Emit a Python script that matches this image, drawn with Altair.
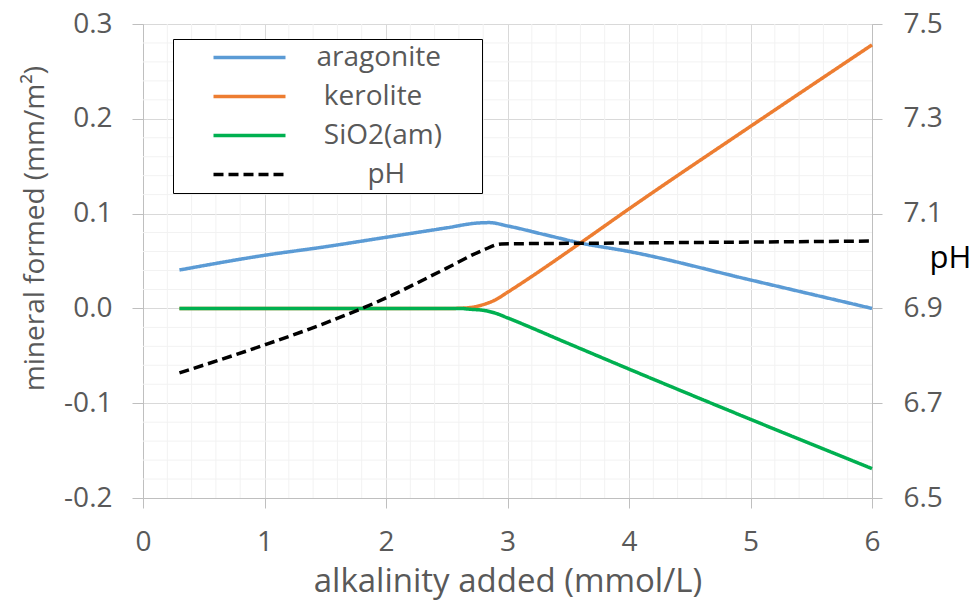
import altair as alt
import pandas as pd
import numpy as np

# ---- data ----
arag_x = [0.3, 1.0, 1.5, 2.0, 2.5, 2.75, 2.85, 3.0, 3.3, 3.6, 4.0, 5.0, 6.0]
arag_y = [0.0405, 0.056, 0.065, 0.075, 0.085, 0.090, 0.0905, 0.087, 0.078, 0.069, 0.060, 0.030, 0.0]

ker_x = [0.3, 1.0, 2.0, 2.55, 2.7, 2.8, 2.9, 3.0, 3.6, 4.0, 5.0, 6.0]
ker_y = [0.0, 0.0, 0.0, 0.0, 0.001, 0.004, 0.009, 0.017, 0.069, 0.105, 0.192, 0.278]

sio_x = [0.3, 1.0, 2.0, 2.6, 2.7, 2.8, 2.9, 3.0, 3.5, 4.0, 5.0, 6.0]
sio_y = [0.0, 0.0, 0.0, 0.0, -0.001, -0.002, -0.005, -0.010, -0.037, -0.064, -0.117, -0.169]

ph_x = [0.3, 1.0, 1.5, 2.0, 2.5, 2.8, 2.95, 4.0, 5.0, 6.0]
ph_y = [6.764, 6.823, 6.869, 6.922, 6.985, 7.023, 7.036, 7.038, 7.040, 7.042]

series_names = ["aragonite", "kerolite", "SiO2(am)", "pH"]
series_colors = ["#5B9BD5", "#ED7D31", "#00B050", "#000000"]
series_dash = [[1, 0], [1, 0], [1, 0], [10, 5]]

x_ticks = [0, 1, 2, 3, 4, 5, 6]
y_ticks = [-0.2, -0.1, 0.0, 0.1, 0.2, 0.3]
ph_ticks = [6.5, 6.7, 6.9, 7.1, 7.3, 7.5]

# ---- tables ----
rows = []
for name, xs, ys in [("aragonite", arag_x, arag_y), ("kerolite", ker_x, ker_y), ("SiO2(am)", sio_x, sio_y)]:
    for a, b in zip(xs, ys):
        rows.append({"x": a, "y": b, "series": name})
mineral = pd.DataFrame(rows)
ph_df = pd.DataFrame({"x": ph_x, "ph": ph_y, "series": "pH"})

minor_x = pd.DataFrame({"v": [round(v, 2) for v in np.arange(0, 6.0001, 0.2) if abs(v - round(v)) > 1e-6]})
minor_y = pd.DataFrame({"v": [round(v, 3) for v in np.arange(-0.2, 0.30001, 0.02) if abs(v * 10 - round(v * 10)) > 1e-6]})

FONT = "Open Sans"
GREY = "#595959"
AX = "#BFBFBF"

xscale = alt.Scale(domain=[0, 6], nice=False, zero=False)
yscale = alt.Scale(domain=[-0.2, 0.3], nice=False, zero=False)
phscale = alt.Scale(domain=[6.5, 7.5], nice=False, zero=False)

hyphen_fmt = "datum.value < 0 ? '-' + format(-datum.value, '.1f') : format(datum.value, '.1f')"

x_axis = alt.Axis(
    values=x_ticks, format="d", title="alkalinity added (mmol/L)", labelFlush=False,
    grid=True, gridColor="#D9D9D9", domainColor=AX, tickColor=AX, tickSize=10,
    labelFont=FONT, labelFontSize=28, labelColor=GREY, labelPadding=20,
    titleFont=FONT, titleFontSize=33, titleFontWeight="normal", titleColor=GREY,
    titleY=93, titleBaseline="alphabetic",
)
y_axis = alt.Axis(
    values=y_ticks, title="mineral formed (mm/m²)", orient="left", labelFlush=False,
    labelExpr=hyphen_fmt,
    grid=True, gridColor="#D9D9D9", domainColor=AX, tickColor=AX, tickSize=11,
    labelFont=FONT, labelFontSize=28, labelColor=GREY, labelPadding=20,
    titleFont=FONT, titleFontSize=28, titleFontWeight="normal", titleColor=GREY,
    titleAngle=270, titleX=-100, titleY=204, titleAlign="center", titleBaseline="alphabetic",
)
ph_axis = alt.Axis(
    values=ph_ticks, format=".1f", title="pH", orient="right", labelFlush=False,
    grid=False, domainColor=AX, tickColor=AX, tickSize=10,
    labelFont=FONT, labelFontSize=28, labelColor=GREY, labelPadding=21,
    titleFont=FONT, titleFontSize=31, titleFontWeight="normal", titleColor="#000000",
    titleAngle=0, titleX=78, titleY=243, titleAlign="center", titleBaseline="alphabetic",
)

# legend labels are centred in the reference: pad them with no-break spaces,
# guarded by zero-width spaces so that the padding is not trimmed away
NB = "\u00a0"
ZW = "\u200b"
label_expr = (
    "datum.label == 'pH' ? '" + ZW + NB * 7 + "pH" + ZW + "' : "
    "datum.label == 'aragonite' ? 'aragonite" + NB * 5 + ZW + "' : '"
    + ZW + NB + "' + datum.label"
)

legend = alt.Legend(
    title=None, orient="none", legendX=30, legendY=15, direction="vertical",
    symbolType="M-4.5,0H4.5", symbolSize=256, symbolStrokeWidth=3.5, symbolOffset=58,
    labelFont=FONT, labelFontSize=28, labelColor=GREY, labelOffset=53, labelLimit=400,
    labelExpr=label_expr,
    padding=4.5, rowPadding=11, strokeColor="#000000", fillColor="#FFFFFF",
)
color = alt.Color("series:N", scale=alt.Scale(domain=series_names, range=series_colors), legend=legend)
dash = alt.StrokeDash("series:N", scale=alt.Scale(domain=series_names, range=series_dash), legend=legend)

grid_x = alt.Chart(minor_x).mark_rule(color="#F2F2F2", strokeWidth=1).encode(
    x=alt.X("v:Q", scale=xscale, axis=x_axis)
)
grid_y = alt.Chart(minor_y).mark_rule(color="#F2F2F2", strokeWidth=1).encode(
    y=alt.Y("v:Q", scale=yscale, axis=y_axis)
)

lines = alt.Chart(mineral).mark_line(strokeWidth=3.5, interpolate="monotone").encode(
    x=alt.X("x:Q", scale=xscale, axis=x_axis),
    y=alt.Y("y:Q", scale=yscale, axis=y_axis),
    color=color,
    strokeDash=dash,
)

ph_line = alt.Chart(ph_df).mark_line(strokeWidth=3.5, interpolate="monotone").encode(
    x=alt.X("x:Q", scale=xscale, axis=x_axis),
    y=alt.Y("ph:Q", scale=phscale, axis=ph_axis),
    color=color,
    strokeDash=dash,
)

inner = alt.layer(grid_x, grid_y, lines)
chart = alt.layer(inner, ph_line).resolve_scale(y="independent").properties(
    width=729, height=474,
    autosize=alt.AutoSizeParams(type="none"),
    padding={"left": 135, "top": 16, "right": 100, "bottom": 110},
).configure_view(strokeWidth=0).configure(background="#FFFFFF")

chart.save("out.html", embed_options={"renderer": "svg", "actions": False})
